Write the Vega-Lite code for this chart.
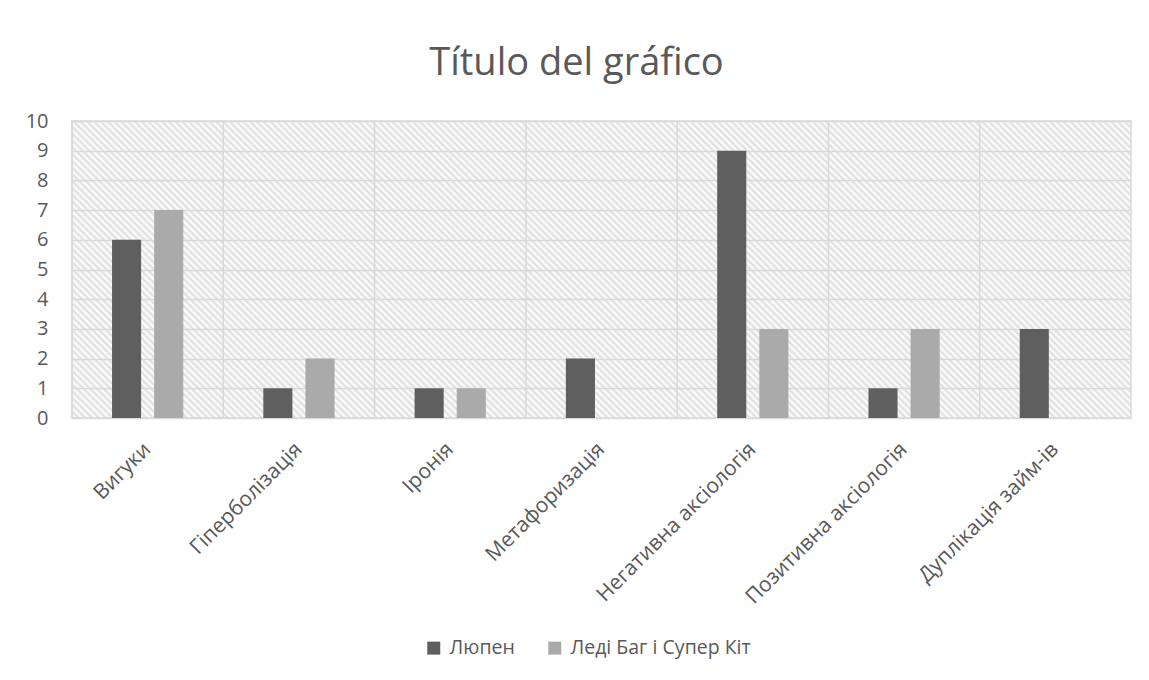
{
  "$schema": "https://vega.github.io/schema/vega-lite/v6.json",
  "autosize": "none",
  "width": 1059,
  "height": 297,
  "padding": {"left": 72, "top": 121, "right": 18, "bottom": 262},
  "background": "#ffffff",
  "title": {"text": "Título del gráfico", "anchor": "middle", "dx": -25, "offset": 28, "fontSize": 38, "fontWeight": "normal", "color": "#595959", "font": "Open Sans"},
  "datasets": {
    "bars": [
      {"category": "Вигуки", "series": "Люпен", "value": 6},
      {"category": "Вигуки", "series": "Леді Баг і Супер Кіт", "value": 7},
      {"category": "Гіперболізація", "series": "Люпен", "value": 1},
      {"category": "Гіперболізація", "series": "Леді Баг і Супер Кіт", "value": 2},
      {"category": "Іронія", "series": "Люпен", "value": 1},
      {"category": "Іронія", "series": "Леді Баг і Супер Кіт", "value": 1},
      {"category": "Метафоризація", "series": "Люпен", "value": 2},
      {"category": "Метафоризація", "series": "Леді Баг і Супер Кіт", "value": 0},
      {"category": "Негативна аксіологія", "series": "Люпен", "value": 9},
      {"category": "Негативна аксіологія", "series": "Леді Баг і Супер Кіт", "value": 3},
      {"category": "Позитивна аксіологія", "series": "Люпен", "value": 1},
      {"category": "Позитивна аксіологія", "series": "Леді Баг і Супер Кіт", "value": 3},
      {"category": "Дуплікація займ-ів", "series": "Люпен", "value": 3},
      {"category": "Дуплікація займ-ів", "series": "Леді Баг і Супер Кіт", "value": 0}
    ],
    "cats": [
      {"category": "Вигуки"},
      {"category": "Гіперболізація"},
      {"category": "Іронія"},
      {"category": "Метафоризація"},
      {"category": "Негативна аксіологія"},
      {"category": "Позитивна аксіологія"},
      {"category": "Дуплікація займ-ів"}
    ]
  },
  "layer": [
    {
      "data": {"name": "cats"},
      "mark": {"type": "rule", "color": "#d9d9d9", "strokeWidth": 1.5},
      "encoding": {
        "x": {"field": "category", "type": "nominal", "bandPosition": 0,
              "scale": {"domain": ["Вигуки", "Гіперболізація", "Іронія", "Метафоризація", "Негативна аксіологія", "Позитивна аксіологія", "Дуплікація займ-ів"], "paddingInner": 0, "paddingOuter": 0},
              "axis": {"title": null, "labelAngle": -45, "labelAlign": "right", "labelBaseline": "middle", "labelPadding": 28, "domain": false, "ticks": false, "grid": false, "labelFont": "Open Sans", "labelFontSize": 21, "labelColor": "#595959", "labelLimit": 400}}
      }
    },
    {
      "data": {"name": "bars"},
      "mark": {"type": "bar"},
      "encoding": {
        "x": {"field": "category", "type": "nominal",
              "scale": {"domain": ["Вигуки", "Гіперболізація", "Іронія", "Метафоризація", "Негативна аксіологія", "Позитивна аксіологія", "Дуплікація займ-ів"], "paddingInner": 0, "paddingOuter": 0},
              "axis": {"title": null, "labelAngle": -45, "labelAlign": "right", "labelBaseline": "middle", "labelPadding": 28, "domain": false, "ticks": false, "grid": false, "labelFont": "Open Sans", "labelFontSize": 21, "labelColor": "#595959", "labelLimit": 400}},
        "xOffset": {"field": "series", "type": "nominal",
              "scale": {"domain": ["Люпен", "Леді Баг і Супер Кіт"], "paddingInner": 0.31, "paddingOuter": 0.95}},
        "y": {"field": "value", "type": "quantitative",
              "scale": {"domain": [0, 10], "nice": false},
              "axis": {"title": null, "values": [0,1,2,3,4,5,6,7,8,9,10], "domain": false, "ticks": false, "grid": true, "gridColor": "#d9d9d9", "gridWidth": 1.5, "labelPadding": 24, "labelFont": "Open Sans", "labelFontSize": 20, "labelColor": "#595959"}},
        "color": {"field": "series", "type": "nominal",
              "scale": {"domain": ["Люпен", "Леді Баг і Супер Кіт"], "range": ["#5f5f5f", "#aaaaaa"]},
              "legend": {"title": null, "orient": "none", "legendX": 352, "legendY": 517, "direction": "horizontal", "symbolType": "square", "symbolSize": 169, "symbolStrokeWidth": 0, "labelFont": "Open Sans", "labelFontSize": 19.5, "labelColor": "#595959", "labelOffset": 6, "labelLimit": 400, "columnPadding": 30, "padding": 0}}
      }
    }
  ],
  "config": {
    "view": {
      "stroke": "#d9d9d9",
      "strokeWidth": 1.5,
      "fill": {"gradient": "linear", "x1": 0, "y1": 1, "x2": 1.187, "y2": 0.667, "stops": [
{"offset":0,"color":"#ddd"},{"offset":0.0025,"color":"#fff"},{"offset":0.005,"color":"#ddd"},{"offset":0.0075,"color":"#fff"},
{"offset":0.01,"color":"#ddd"},{"offset":0.0125,"color":"#fff"},{"offset":0.015,"color":"#ddd"},{"offset":0.0175,"color":"#fff"},
{"offset":0.02,"color":"#ddd"},{"offset":0.0225,"color":"#fff"},{"offset":0.025,"color":"#ddd"},{"offset":0.0275,"color":"#fff"},
{"offset":0.03,"color":"#ddd"},{"offset":0.0325,"color":"#fff"},{"offset":0.035,"color":"#ddd"},{"offset":0.0375,"color":"#fff"},
{"offset":0.04,"color":"#ddd"},{"offset":0.0425,"color":"#fff"},{"offset":0.045,"color":"#ddd"},{"offset":0.0475,"color":"#fff"},
{"offset":0.05,"color":"#ddd"},{"offset":0.0525,"color":"#fff"},{"offset":0.055,"color":"#ddd"},{"offset":0.0575,"color":"#fff"},
{"offset":0.06,"color":"#ddd"},{"offset":0.0625,"color":"#fff"},{"offset":0.065,"color":"#ddd"},{"offset":0.0675,"color":"#fff"},
{"offset":0.07,"color":"#ddd"},{"offset":0.0725,"color":"#fff"},{"offset":0.075,"color":"#ddd"},{"offset":0.0775,"color":"#fff"},
{"offset":0.08,"color":"#ddd"},{"offset":0.0825,"color":"#fff"},{"offset":0.085,"color":"#ddd"},{"offset":0.0875,"color":"#fff"},
{"offset":0.09,"color":"#ddd"},{"offset":0.0925,"color":"#fff"},{"offset":0.095,"color":"#ddd"},{"offset":0.0975,"color":"#fff"},
{"offset":0.1,"color":"#ddd"},{"offset":0.1025,"color":"#fff"},{"offset":0.105,"color":"#ddd"},{"offset":0.1075,"color":"#fff"},
{"offset":0.11,"color":"#ddd"},{"offset":0.1125,"color":"#fff"},{"offset":0.115,"color":"#ddd"},{"offset":0.1175,"color":"#fff"},
{"offset":0.12,"color":"#ddd"},{"offset":0.1225,"color":"#fff"},{"offset":0.125,"color":"#ddd"},{"offset":0.1275,"color":"#fff"},
{"offset":0.13,"color":"#ddd"},{"offset":0.1325,"color":"#fff"},{"offset":0.135,"color":"#ddd"},{"offset":0.1375,"color":"#fff"},
{"offset":0.14,"color":"#ddd"},{"offset":0.1425,"color":"#fff"},{"offset":0.145,"color":"#ddd"},{"offset":0.1475,"color":"#fff"},
{"offset":0.15,"color":"#ddd"},{"offset":0.1525,"color":"#fff"},{"offset":0.155,"color":"#ddd"},{"offset":0.1575,"color":"#fff"},
{"offset":0.16,"color":"#ddd"},{"offset":0.1625,"color":"#fff"},{"offset":0.165,"color":"#ddd"},{"offset":0.1675,"color":"#fff"},
{"offset":0.17,"color":"#ddd"},{"offset":0.1725,"color":"#fff"},{"offset":0.175,"color":"#ddd"},{"offset":0.1775,"color":"#fff"},
{"offset":0.18,"color":"#ddd"},{"offset":0.1825,"color":"#fff"},{"offset":0.185,"color":"#ddd"},{"offset":0.1875,"color":"#fff"},
{"offset":0.19,"color":"#ddd"},{"offset":0.1925,"color":"#fff"},{"offset":0.195,"color":"#ddd"},{"offset":0.1975,"color":"#fff"},
{"offset":0.2,"color":"#ddd"},{"offset":0.2025,"color":"#fff"},{"offset":0.205,"color":"#ddd"},{"offset":0.2075,"color":"#fff"},
{"offset":0.21,"color":"#ddd"},{"offset":0.2125,"color":"#fff"},{"offset":0.215,"color":"#ddd"},{"offset":0.2175,"color":"#fff"},
{"offset":0.22,"color":"#ddd"},{"offset":0.2225,"color":"#fff"},{"offset":0.225,"color":"#ddd"},{"offset":0.2275,"color":"#fff"},
{"offset":0.23,"color":"#ddd"},{"offset":0.2325,"color":"#fff"},{"offset":0.235,"color":"#ddd"},{"offset":0.2375,"color":"#fff"},
{"offset":0.24,"color":"#ddd"},{"offset":0.2425,"color":"#fff"},{"offset":0.245,"color":"#ddd"},{"offset":0.2475,"color":"#fff"},
{"offset":0.25,"color":"#ddd"},{"offset":0.2525,"color":"#fff"},{"offset":0.255,"color":"#ddd"},{"offset":0.2575,"color":"#fff"},
{"offset":0.26,"color":"#ddd"},{"offset":0.2625,"color":"#fff"},{"offset":0.265,"color":"#ddd"},{"offset":0.2675,"color":"#fff"},
{"offset":0.27,"color":"#ddd"},{"offset":0.2725,"color":"#fff"},{"offset":0.275,"color":"#ddd"},{"offset":0.2775,"color":"#fff"},
{"offset":0.28,"color":"#ddd"},{"offset":0.2825,"color":"#fff"},{"offset":0.285,"color":"#ddd"},{"offset":0.2875,"color":"#fff"},
{"offset":0.29,"color":"#ddd"},{"offset":0.2925,"color":"#fff"},{"offset":0.295,"color":"#ddd"},{"offset":0.2975,"color":"#fff"},
{"offset":0.3,"color":"#ddd"},{"offset":0.3025,"color":"#fff"},{"offset":0.305,"color":"#ddd"},{"offset":0.3075,"color":"#fff"},
{"offset":0.31,"color":"#ddd"},{"offset":0.3125,"color":"#fff"},{"offset":0.315,"color":"#ddd"},{"offset":0.3175,"color":"#fff"},
{"offset":0.32,"color":"#ddd"},{"offset":0.3225,"color":"#fff"},{"offset":0.325,"color":"#ddd"},{"offset":0.3275,"color":"#fff"},
{"offset":0.33,"color":"#ddd"},{"offset":0.3325,"color":"#fff"},{"offset":0.335,"color":"#ddd"},{"offset":0.3375,"color":"#fff"},
{"offset":0.34,"color":"#ddd"},{"offset":0.3425,"color":"#fff"},{"offset":0.345,"color":"#ddd"},{"offset":0.3475,"color":"#fff"},
{"offset":0.35,"color":"#ddd"},{"offset":0.3525,"color":"#fff"},{"offset":0.355,"color":"#ddd"},{"offset":0.3575,"color":"#fff"},
{"offset":0.36,"color":"#ddd"},{"offset":0.3625,"color":"#fff"},{"offset":0.365,"color":"#ddd"},{"offset":0.3675,"color":"#fff"},
{"offset":0.37,"color":"#ddd"},{"offset":0.3725,"color":"#fff"},{"offset":0.375,"color":"#ddd"},{"offset":0.3775,"color":"#fff"},
{"offset":0.38,"color":"#ddd"},{"offset":0.3825,"color":"#fff"},{"offset":0.385,"color":"#ddd"},{"offset":0.3875,"color":"#fff"},
{"offset":0.39,"color":"#ddd"},{"offset":0.3925,"color":"#fff"},{"offset":0.395,"color":"#ddd"},{"offset":0.3975,"color":"#fff"},
{"offset":0.4,"color":"#ddd"},{"offset":0.4025,"color":"#fff"},{"offset":0.405,"color":"#ddd"},{"offset":0.4075,"color":"#fff"},
{"offset":0.41,"color":"#ddd"},{"offset":0.4125,"color":"#fff"},{"offset":0.415,"color":"#ddd"},{"offset":0.4175,"color":"#fff"},
{"offset":0.42,"color":"#ddd"},{"offset":0.4225,"color":"#fff"},{"offset":0.425,"color":"#ddd"},{"offset":0.4275,"color":"#fff"},
{"offset":0.43,"color":"#ddd"},{"offset":0.4325,"color":"#fff"},{"offset":0.435,"color":"#ddd"},{"offset":0.4375,"color":"#fff"},
{"offset":0.44,"color":"#ddd"},{"offset":0.4425,"color":"#fff"},{"offset":0.445,"color":"#ddd"},{"offset":0.4475,"color":"#fff"},
{"offset":0.45,"color":"#ddd"},{"offset":0.4525,"color":"#fff"},{"offset":0.455,"color":"#ddd"},{"offset":0.4575,"color":"#fff"},
{"offset":0.46,"color":"#ddd"},{"offset":0.4625,"color":"#fff"},{"offset":0.465,"color":"#ddd"},{"offset":0.4675,"color":"#fff"},
{"offset":0.47,"color":"#ddd"},{"offset":0.4725,"color":"#fff"},{"offset":0.475,"color":"#ddd"},{"offset":0.4775,"color":"#fff"},
{"offset":0.48,"color":"#ddd"},{"offset":0.4825,"color":"#fff"},{"offset":0.485,"color":"#ddd"},{"offset":0.4875,"color":"#fff"},
{"offset":0.49,"color":"#ddd"},{"offset":0.4925,"color":"#fff"},{"offset":0.495,"color":"#ddd"},{"offset":0.4975,"color":"#fff"},
{"offset":0.5,"color":"#ddd"},{"offset":0.5025,"color":"#fff"},{"offset":0.505,"color":"#ddd"},{"offset":0.5075,"color":"#fff"},
{"offset":0.51,"color":"#ddd"},{"offset":0.5125,"color":"#fff"},{"offset":0.515,"color":"#ddd"},{"offset":0.5175,"color":"#fff"},
{"offset":0.52,"color":"#ddd"},{"offset":0.5225,"color":"#fff"},{"offset":0.525,"color":"#ddd"},{"offset":0.5275,"color":"#fff"},
{"offset":0.53,"color":"#ddd"},{"offset":0.5325,"color":"#fff"},{"offset":0.535,"color":"#ddd"},{"offset":0.5375,"color":"#fff"},
{"offset":0.54,"color":"#ddd"},{"offset":0.5425,"color":"#fff"},{"offset":0.545,"color":"#ddd"},{"offset":0.5475,"color":"#fff"},
{"offset":0.55,"color":"#ddd"},{"offset":0.5525,"color":"#fff"},{"offset":0.555,"color":"#ddd"},{"offset":0.5575,"color":"#fff"},
{"offset":0.56,"color":"#ddd"},{"offset":0.5625,"color":"#fff"},{"offset":0.565,"color":"#ddd"},{"offset":0.5675,"color":"#fff"},
{"offset":0.57,"color":"#ddd"},{"offset":0.5725,"color":"#fff"},{"offset":0.575,"color":"#ddd"},{"offset":0.5775,"color":"#fff"},
{"offset":0.58,"color":"#ddd"},{"offset":0.5825,"color":"#fff"},{"offset":0.585,"color":"#ddd"},{"offset":0.5875,"color":"#fff"},
{"offset":0.59,"color":"#ddd"},{"offset":0.5925,"color":"#fff"},{"offset":0.595,"color":"#ddd"},{"offset":0.5975,"color":"#fff"},
{"offset":0.6,"color":"#ddd"},{"offset":0.6025,"color":"#fff"},{"offset":0.605,"color":"#ddd"},{"offset":0.6075,"color":"#fff"},
{"offset":0.61,"color":"#ddd"},{"offset":0.6125,"color":"#fff"},{"offset":0.615,"color":"#ddd"},{"offset":0.6175,"color":"#fff"},
{"offset":0.62,"color":"#ddd"},{"offset":0.6225,"color":"#fff"},{"offset":0.625,"color":"#ddd"},{"offset":0.6275,"color":"#fff"},
{"offset":0.63,"color":"#ddd"},{"offset":0.6325,"color":"#fff"},{"offset":0.635,"color":"#ddd"},{"offset":0.6375,"color":"#fff"},
{"offset":0.64,"color":"#ddd"},{"offset":0.6425,"color":"#fff"},{"offset":0.645,"color":"#ddd"},{"offset":0.6475,"color":"#fff"},
{"offset":0.65,"color":"#ddd"},{"offset":0.6525,"color":"#fff"},{"offset":0.655,"color":"#ddd"},{"offset":0.6575,"color":"#fff"},
{"offset":0.66,"color":"#ddd"},{"offset":0.6625,"color":"#fff"},{"offset":0.665,"color":"#ddd"},{"offset":0.6675,"color":"#fff"},
{"offset":0.67,"color":"#ddd"},{"offset":0.6725,"color":"#fff"},{"offset":0.675,"color":"#ddd"},{"offset":0.6775,"color":"#fff"},
{"offset":0.68,"color":"#ddd"},{"offset":0.6825,"color":"#fff"},{"offset":0.685,"color":"#ddd"},{"offset":0.6875,"color":"#fff"},
{"offset":0.69,"color":"#ddd"},{"offset":0.6925,"color":"#fff"},{"offset":0.695,"color":"#ddd"},{"offset":0.6975,"color":"#fff"},
{"offset":0.7,"color":"#ddd"},{"offset":0.7025,"color":"#fff"},{"offset":0.705,"color":"#ddd"},{"offset":0.7075,"color":"#fff"},
{"offset":0.71,"color":"#ddd"},{"offset":0.7125,"color":"#fff"},{"offset":0.715,"color":"#ddd"},{"offset":0.7175,"color":"#fff"},
{"offset":0.72,"color":"#ddd"},{"offset":0.7225,"color":"#fff"},{"offset":0.725,"color":"#ddd"},{"offset":0.7275,"color":"#fff"},
{"offset":0.73,"color":"#ddd"},{"offset":0.7325,"color":"#fff"},{"offset":0.735,"color":"#ddd"},{"offset":0.7375,"color":"#fff"},
{"offset":0.74,"color":"#ddd"},{"offset":0.7425,"color":"#fff"},{"offset":0.745,"color":"#ddd"},{"offset":0.7475,"color":"#fff"},
{"offset":0.75,"color":"#ddd"},{"offset":0.7525,"color":"#fff"},{"offset":0.755,"color":"#ddd"},{"offset":0.7575,"color":"#fff"},
{"offset":0.76,"color":"#ddd"},{"offset":0.7625,"color":"#fff"},{"offset":0.765,"color":"#ddd"},{"offset":0.7675,"color":"#fff"},
{"offset":0.77,"color":"#ddd"},{"offset":0.7725,"color":"#fff"},{"offset":0.775,"color":"#ddd"},{"offset":0.7775,"color":"#fff"},
{"offset":0.78,"color":"#ddd"},{"offset":0.7825,"color":"#fff"},{"offset":0.785,"color":"#ddd"},{"offset":0.7875,"color":"#fff"},
{"offset":0.79,"color":"#ddd"},{"offset":0.7925,"color":"#fff"},{"offset":0.795,"color":"#ddd"},{"offset":0.7975,"color":"#fff"},
{"offset":0.8,"color":"#ddd"},{"offset":0.8025,"color":"#fff"},{"offset":0.805,"color":"#ddd"},{"offset":0.8075,"color":"#fff"},
{"offset":0.81,"color":"#ddd"},{"offset":0.8125,"color":"#fff"},{"offset":0.815,"color":"#ddd"},{"offset":0.8175,"color":"#fff"},
{"offset":0.82,"color":"#ddd"},{"offset":0.8225,"color":"#fff"},{"offset":0.825,"color":"#ddd"},{"offset":0.8275,"color":"#fff"},
{"offset":0.83,"color":"#ddd"},{"offset":0.8325,"color":"#fff"},{"offset":0.835,"color":"#ddd"},{"offset":0.8375,"color":"#fff"},
{"offset":0.84,"color":"#ddd"},{"offset":0.8425,"color":"#fff"},{"offset":0.845,"color":"#ddd"},{"offset":0.8475,"color":"#fff"},
{"offset":0.85,"color":"#ddd"},{"offset":0.8525,"color":"#fff"},{"offset":0.855,"color":"#ddd"},{"offset":0.8575,"color":"#fff"},
{"offset":0.86,"color":"#ddd"},{"offset":0.8625,"color":"#fff"},{"offset":0.865,"color":"#ddd"},{"offset":0.8675,"color":"#fff"},
{"offset":0.87,"color":"#ddd"},{"offset":0.8725,"color":"#fff"},{"offset":0.875,"color":"#ddd"},{"offset":0.8775,"color":"#fff"},
{"offset":0.88,"color":"#ddd"},{"offset":0.8825,"color":"#fff"},{"offset":0.885,"color":"#ddd"},{"offset":0.8875,"color":"#fff"},
{"offset":0.89,"color":"#ddd"},{"offset":0.8925,"color":"#fff"},{"offset":0.895,"color":"#ddd"},{"offset":0.8975,"color":"#fff"},
{"offset":0.9,"color":"#ddd"},{"offset":0.9025,"color":"#fff"},{"offset":0.905,"color":"#ddd"},{"offset":0.9075,"color":"#fff"},
{"offset":0.91,"color":"#ddd"},{"offset":0.9125,"color":"#fff"},{"offset":0.915,"color":"#ddd"},{"offset":0.9175,"color":"#fff"},
{"offset":0.92,"color":"#ddd"},{"offset":0.9225,"color":"#fff"},{"offset":0.925,"color":"#ddd"},{"offset":0.9275,"color":"#fff"},
{"offset":0.93,"color":"#ddd"},{"offset":0.9325,"color":"#fff"},{"offset":0.935,"color":"#ddd"},{"offset":0.9375,"color":"#fff"},
{"offset":0.94,"color":"#ddd"},{"offset":0.9425,"color":"#fff"},{"offset":0.945,"color":"#ddd"},{"offset":0.9475,"color":"#fff"},
{"offset":0.95,"color":"#ddd"},{"offset":0.9525,"color":"#fff"},{"offset":0.955,"color":"#ddd"},{"offset":0.9575,"color":"#fff"},
{"offset":0.96,"color":"#ddd"},{"offset":0.9625,"color":"#fff"},{"offset":0.965,"color":"#ddd"},{"offset":0.9675,"color":"#fff"},
{"offset":0.97,"color":"#ddd"},{"offset":0.9725,"color":"#fff"},{"offset":0.975,"color":"#ddd"},{"offset":0.9775,"color":"#fff"},
{"offset":0.98,"color":"#ddd"},{"offset":0.9825,"color":"#fff"},{"offset":0.985,"color":"#ddd"},{"offset":0.9875,"color":"#fff"},
{"offset":0.99,"color":"#ddd"},{"offset":0.9925,"color":"#fff"},{"offset":0.995,"color":"#ddd"},{"offset":0.9975,"color":"#fff"},
{"offset":1,"color":"#ddd"}
      ]}
    }
  }
}
